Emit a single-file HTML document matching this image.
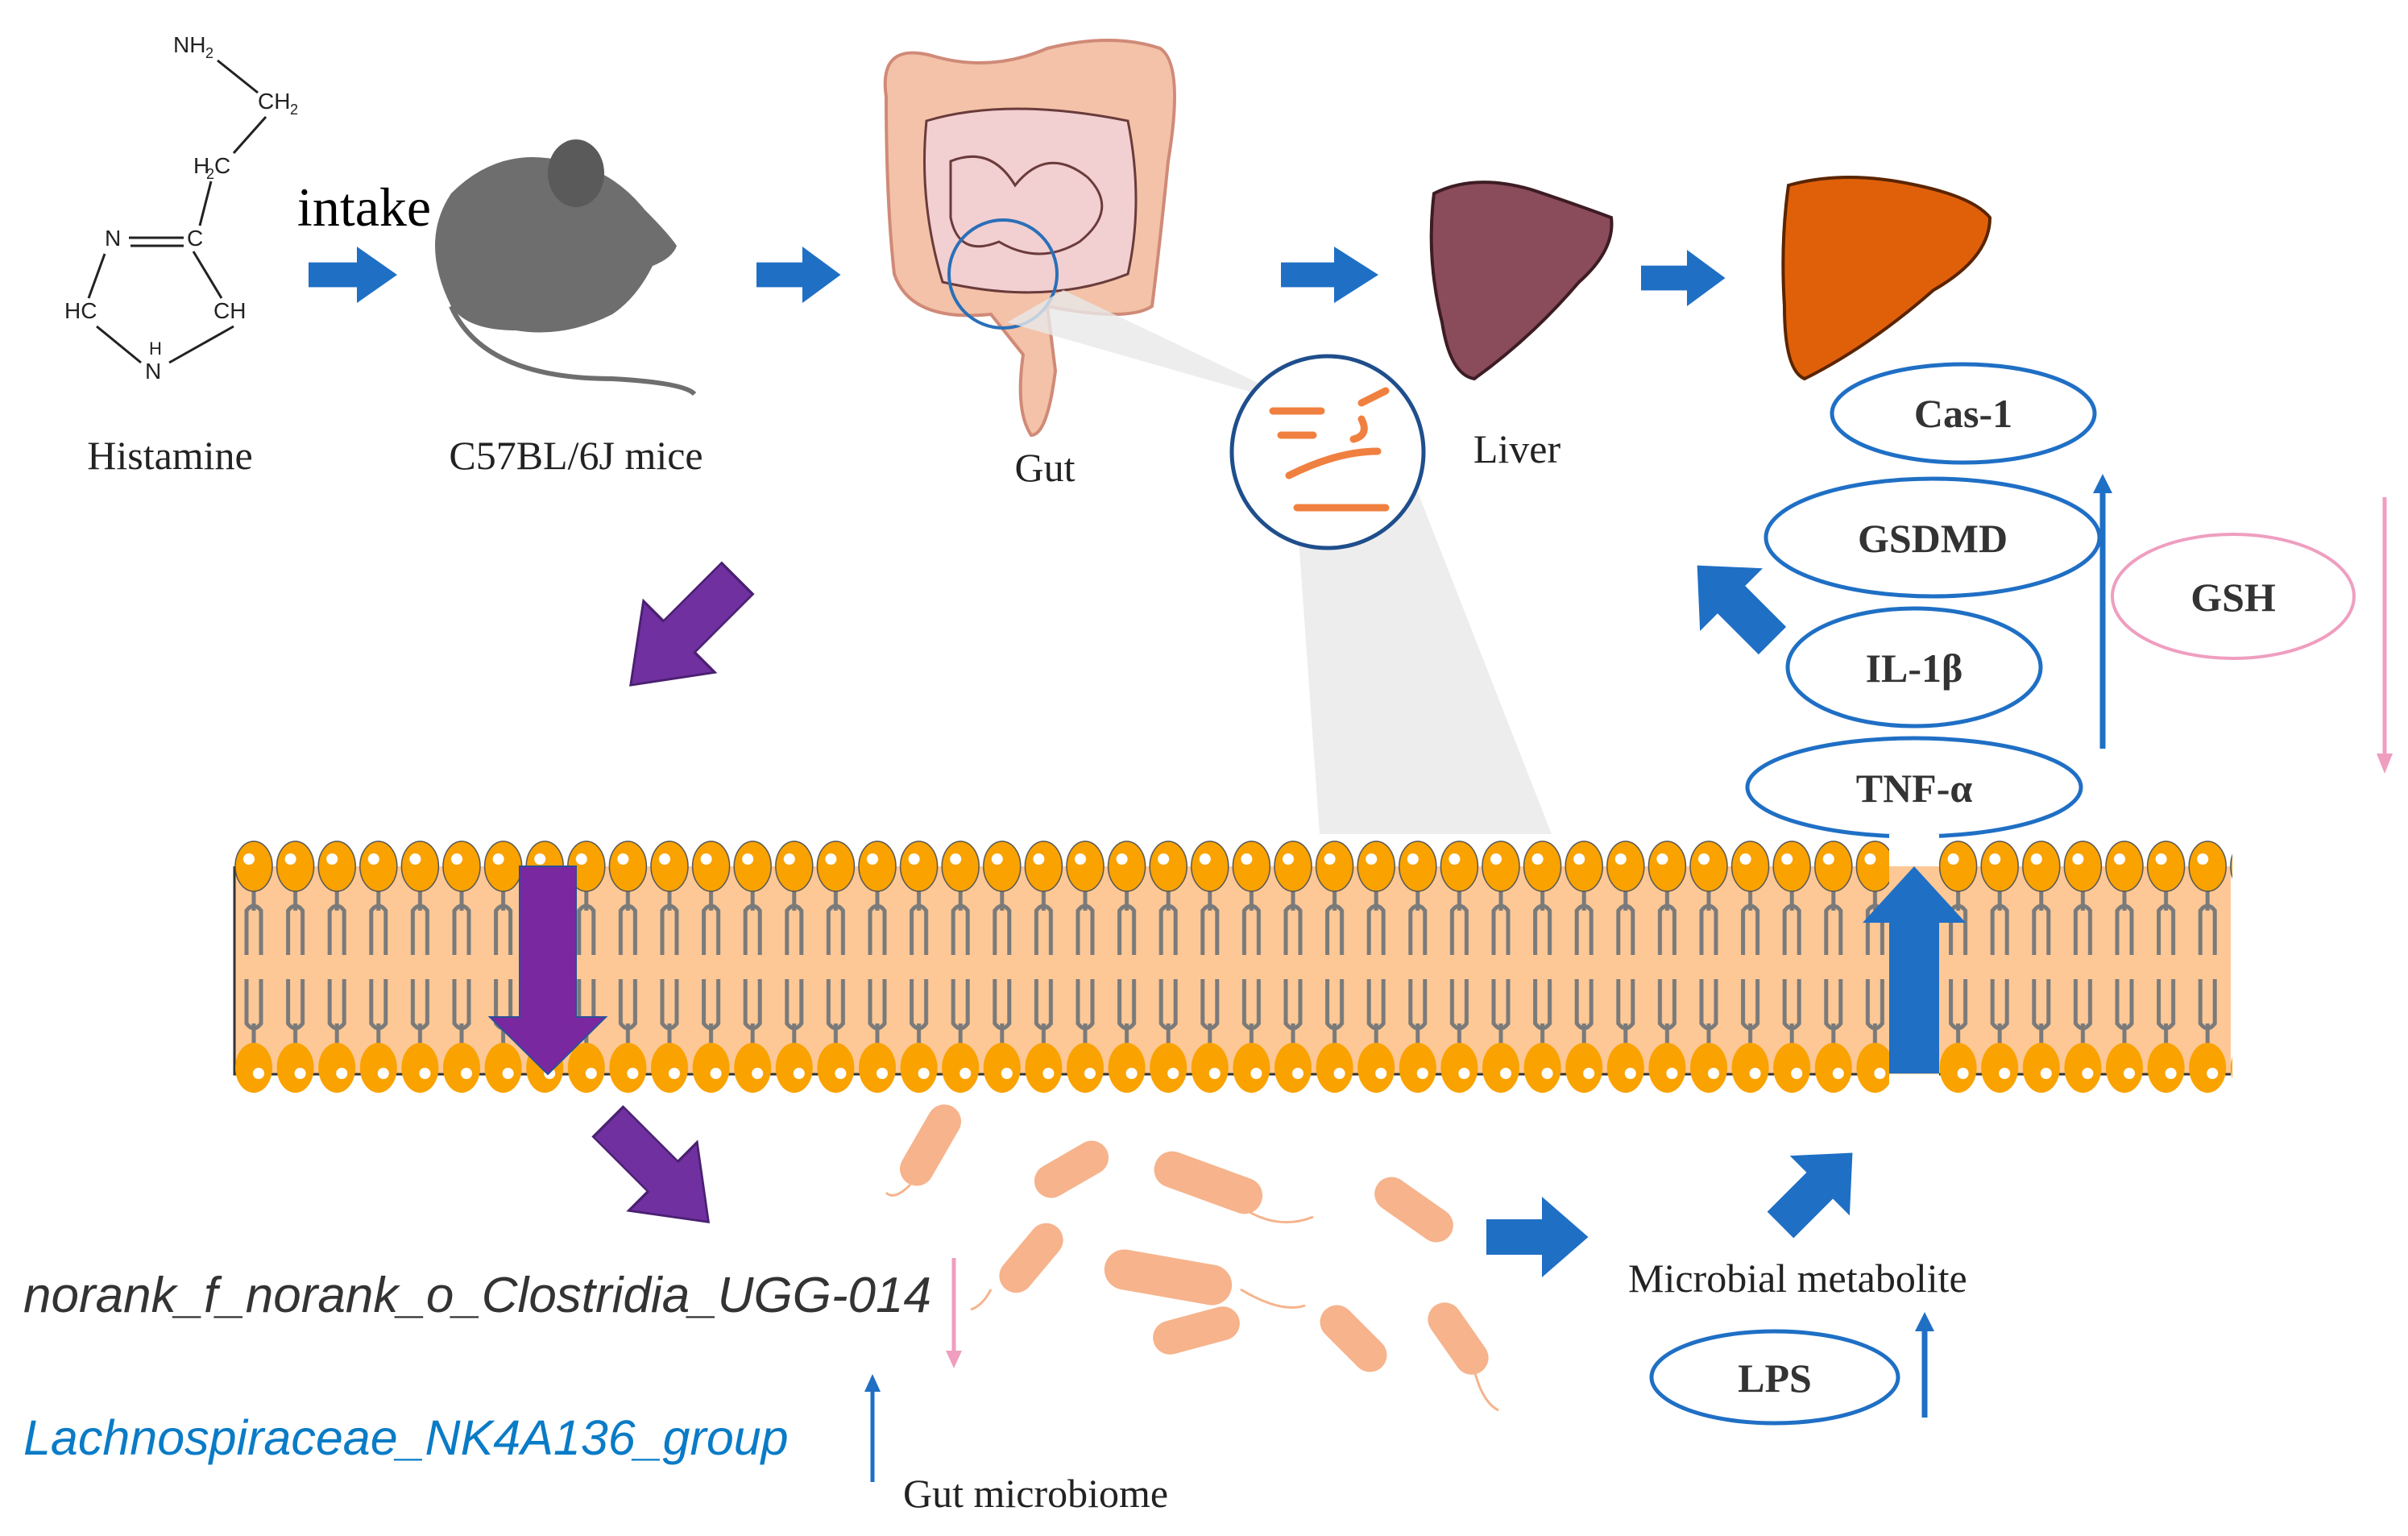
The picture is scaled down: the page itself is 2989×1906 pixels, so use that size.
<!DOCTYPE html>
<html><head><meta charset="utf-8"><style>
html,body{margin:0;padding:0;background:#fff}
svg{display:block}
.s{font-family:"Liberation Serif",serif}
.b{font-family:"Liberation Serif",serif;font-weight:bold}
.i{font-family:"Liberation Sans",sans-serif;font-style:italic}
</style></head><body>
<svg width="2989" height="1906" viewBox="0 0 2989 1906" xmlns="http://www.w3.org/2000/svg">
<defs>
<pattern id="lip" x="289" y="0" width="51.6" height="1906" patternUnits="userSpaceOnUse">
 <g stroke="#7a7a7a" stroke-width="5" fill="none">
  <path d="M26 1100 V1130 M17 1185 V1130 Q26 1118 35 1130 V1185"/>
  <path d="M26 1300 V1270 M17 1215 V1270 Q26 1282 35 1270 V1215"/>
 </g>
 <ellipse cx="26" cy="1075" rx="23" ry="31" fill="#f9a200" stroke="#555" stroke-width="1.5"/>
 <circle cx="20" cy="1066" r="7" fill="#fff"/>
 <ellipse cx="26" cy="1325" rx="23" ry="31" fill="#f9a200"/>
 <circle cx="32" cy="1332" r="7" fill="#fff"/>
</pattern>
<path id="arr" d="M0 -22 H60 V-50 L110 0 L60 50 V22 H0 Z"/>
</defs>

<!-- histamine structure -->
<g font-family="Liberation Sans,sans-serif" font-size="28" fill="#222">
<text x="215" y="65">NH</text><text x="255" y="72" font-size="18">2</text>
<text x="320" y="135">CH</text><text x="360" y="142" font-size="18">2</text>
<text x="240" y="215">H</text><text x="256" y="222" font-size="18">2</text><text x="266" y="215">C</text>
<text x="130" y="305">N</text><text x="232" y="305">C</text>
<text x="80" y="395">HC</text><text x="265" y="395">CH</text>
<text x="180" y="470">N</text><text x="185" y="440" font-size="22">H</text>
</g>
<g stroke="#222" stroke-width="3" fill="none">
<path d="M270 75 L320 115 M330 145 L290 190 M262 225 L248 280 M160 295 H228 M162 305 H228 M240 312 L275 370 M130 315 L110 370 M120 405 L175 450 M290 405 L210 450"/>
</g>
<text class="s" x="211" y="582" font-size="50" text-anchor="middle" fill="#222">Histamine</text>
<text class="s" x="452" y="280" font-size="68" text-anchor="middle" fill="#000">intake</text>

<!-- blue arrows top -->
<g fill="#1f6fc5">
<use href="#arr" transform="translate(383,341) scale(1,0.7)"/>
<use href="#arr" transform="translate(939,341) scale(0.95,0.7)"/>
<use href="#arr" transform="translate(1590,341) scale(1.1,0.7)"/>
<use href="#arr" transform="translate(2037,345) scale(0.95,0.7)"/>
</g>

<!-- mouse -->
<g fill="#6e6e6e">
<path d="M560 380 Q520 300 560 240 Q620 180 700 200 Q760 210 800 260 Q830 290 840 305 Q835 320 810 330 Q790 370 760 390 Q700 420 640 410 Q580 410 560 380 Z"/>
<ellipse cx="715" cy="215" rx="35" ry="42" fill="#5a5a5a"/>
<path d="M560 380 Q600 470 760 470 Q850 475 862 489" stroke="#6e6e6e" stroke-width="6" fill="none"/>
</g>
<text class="s" x="715" y="582" font-size="50" text-anchor="middle" fill="#222">C57BL/6J mice</text>

<!-- gut -->
<g>
<path d="M1100 120 Q1090 50 1160 70 Q1230 90 1300 60 Q1380 40 1440 60 Q1470 80 1450 200 Q1440 300 1430 380 Q1400 400 1300 380 L1310 460 Q1300 540 1280 540 Q1260 510 1270 440 L1230 390 Q1130 400 1110 340 Q1100 250 1100 120 Z" fill="#f3c2a8" stroke="#d08a78" stroke-width="4"/>
<path d="M1150 150 Q1250 120 1400 150 Q1420 250 1400 340 Q1300 380 1170 350 Q1140 250 1150 150 Z" fill="#f2cfd0" stroke="#6a3b3b" stroke-width="3"/>
<path d="M1180 200 Q1230 180 1260 230 Q1300 180 1350 220 Q1390 260 1340 300 Q1290 330 1240 300 Q1190 320 1180 270 Z" fill="none" stroke="#6a3b3b" stroke-width="3"/>
<circle cx="1245" cy="340" r="67" fill="none" stroke="#2a6fb8" stroke-width="4"/>
</g>
<text class="s" x="1297" y="597" font-size="50" text-anchor="middle" fill="#222">Gut</text>

<!-- zoom wedge -->
<polygon points="1250,400 1600,500 1638,1035 1926,1035 1740,560 1320,360" fill="#e8e8e8" opacity="0.8"/>
<circle cx="1648" cy="561" r="119" fill="#fff" stroke="#1f4e8c" stroke-width="5"/>
<g stroke="#f08040" stroke-width="9" fill="none" stroke-linecap="round">
<path d="M1580 510 H1640 M1690 500 L1720 485 M1590 540 H1630 M1690 520 Q1700 540 1680 545 M1600 590 Q1660 560 1710 560 M1610 630 H1720"/>
</g>

<!-- livers -->
<path d="M1780 240 Q1830 215 1900 235 Q1960 255 2000 270 Q2005 310 1960 350 Q1900 420 1830 470 Q1800 465 1790 400 Q1770 320 1780 240 Z" fill="#8a4b5a" stroke="#3d1c24" stroke-width="4"/>
<text class="s" x="1883" y="574" font-size="50" text-anchor="middle" fill="#222">Liver</text>
<path d="M2220 230 Q2290 210 2380 230 Q2450 245 2470 270 Q2470 320 2400 360 Q2320 430 2240 470 Q2215 460 2215 380 Q2210 300 2220 230 Z" fill="#e0600a" stroke="#5a2500" stroke-width="4"/>

<!-- ellipses -->
<g fill="#fff" stroke="#1f6fc5" stroke-width="5">
<ellipse cx="2437" cy="513" rx="163" ry="61"/>
<ellipse cx="2399" cy="667" rx="207" ry="73"/>
<ellipse cx="2376" cy="828" rx="157" ry="73"/>
<ellipse cx="2376" cy="977" rx="207" ry="61"/>
<ellipse cx="2203" cy="1709" rx="153" ry="57"/>
</g>
<ellipse cx="2772" cy="740" rx="150" ry="77" fill="#fff" stroke="#ef9ec0" stroke-width="4"/>
<g class="b" font-size="50" text-anchor="middle" fill="#333">
<text x="2437" y="530">Cas-1</text>
<text x="2399" y="685">GSDMD</text>
<text x="2376" y="846">IL-1β</text>
<text x="2376" y="995">TNF-α</text>
<text x="2772" y="758">GSH</text>
<text x="2203" y="1727">LPS</text>
</g>
<!-- thin arrows -->
<g stroke-width="7">
<path d="M2610 929 V610" stroke="#1f6fc5"/><path d="M2598 612 L2610 588 L2622 612 Z" fill="#1f6fc5"/>
<path d="M2960 617 V940" stroke="#ef9ec0" stroke-width="5"/><path d="M2950 935 L2960 960 L2970 935 Z" fill="#ef9ec0"/>
<path d="M2389 1759 V1650" stroke="#1f6fc5"/><path d="M2377 1652 L2389 1628 L2401 1652 Z" fill="#1f6fc5"/>
<path d="M1083 1839 V1725" stroke="#1f6fc5" stroke-width="5"/><path d="M1073 1727 L1083 1705 L1093 1727 Z" fill="#1f6fc5"/>
<path d="M1184 1561 V1680" stroke="#ef9ec0" stroke-width="5"/><path d="M1174 1676 L1184 1698 L1194 1676 Z" fill="#ef9ec0"/>
</g>

<!-- diagonal block arrows -->
<use href="#arr" fill="#1f6fc5" transform="translate(2200,795) rotate(-135) scale(1.2,1.1)"/>
<use href="#arr" fill="#7030a0" stroke="#4a2070" stroke-width="2" transform="translate(915,718) rotate(135) scale(1.7,1.25)"/>
<use href="#arr" fill="#7030a0" stroke="#4a2070" stroke-width="2" transform="translate(755,1392) rotate(45) scale(1.6,1.2)"/>
<use href="#arr" fill="#1f6fc5" transform="translate(1845,1535) scale(1.15,1)"/>
<use href="#arr" fill="#1f6fc5" transform="translate(2210,1520) rotate(-45) scale(1.15,1.05)"/>

<!-- membrane -->
<rect x="291" y="1075" width="2478" height="258" fill="#fdc896"/>
<path d="M291 1075 V1333 H2769" stroke="#333" stroke-width="3" fill="none"/>
<rect x="289" y="1030" width="2482" height="340" fill="url(#lip)"/>
<!-- gaps -->
<rect x="2345" y="1035" width="62" height="335" fill="#fff"/>
<rect x="2345" y="1075" width="62" height="258" fill="#fdc896"/>
<!-- purple down arrow in membrane -->
<path d="M645 1075 H715 V1262 H752 L680 1333 L608 1262 H645 Z" fill="#7a28a0" stroke="#2b4e9a" stroke-width="2"/>
<!-- blue up arrow in membrane -->
<path d="M2345 1332 H2407 V1145 H2440 L2376 1075 L2312 1145 H2345 Z" fill="#1f6fc5"/>

<!-- bacteria -->
<g fill="#f6b38c">
<rect x="1100" y="1400" width="110" height="42" rx="21" transform="rotate(-60 1155 1421)"/>
<rect x="1280" y="1430" width="100" height="42" rx="21" transform="rotate(-30 1330 1451)"/>
<rect x="1430" y="1445" width="140" height="45" rx="22" transform="rotate(20 1500 1467)"/>
<rect x="1700" y="1480" width="110" height="42" rx="21" transform="rotate(35 1755 1501)"/>
<rect x="1230" y="1540" width="100" height="42" rx="21" transform="rotate(-50 1280 1561)"/>
<rect x="1370" y="1560" width="160" height="50" rx="25" transform="rotate(10 1450 1585)"/>
<rect x="1430" y="1630" width="110" height="42" rx="21" transform="rotate(-15 1485 1651)"/>
<rect x="1630" y="1640" width="100" height="42" rx="21" transform="rotate(45 1680 1661)"/>
<rect x="1760" y="1640" width="100" height="42" rx="21" transform="rotate(55 1810 1661)"/>
</g>
<g stroke="#f6b38c" stroke-width="3" fill="none">
<path d="M1130 1470 Q1110 1490 1100 1480"/><path d="M1530 1490 Q1580 1530 1630 1510"/><path d="M1230 1600 Q1220 1620 1205 1625"/><path d="M1830 1700 Q1840 1740 1860 1750"/><path d="M1540 1600 Q1590 1630 1620 1620"/>
</g>

<!-- labels -->
<text class="i" x="29" y="1628" font-size="62" fill="#333">norank_f_norank_o_Clostridia_UGG-014</text>
<text class="i" x="29" y="1805" font-size="61" fill="#0a7bc6">Lachnospiraceae_NK4A136_group</text>
<text class="s" x="1121" y="1870" font-size="50" fill="#222">Gut microbiome</text>
<text class="s" x="2021" y="1603" font-size="50" fill="#222">Microbial metabolite</text>
</svg>
</body></html>
